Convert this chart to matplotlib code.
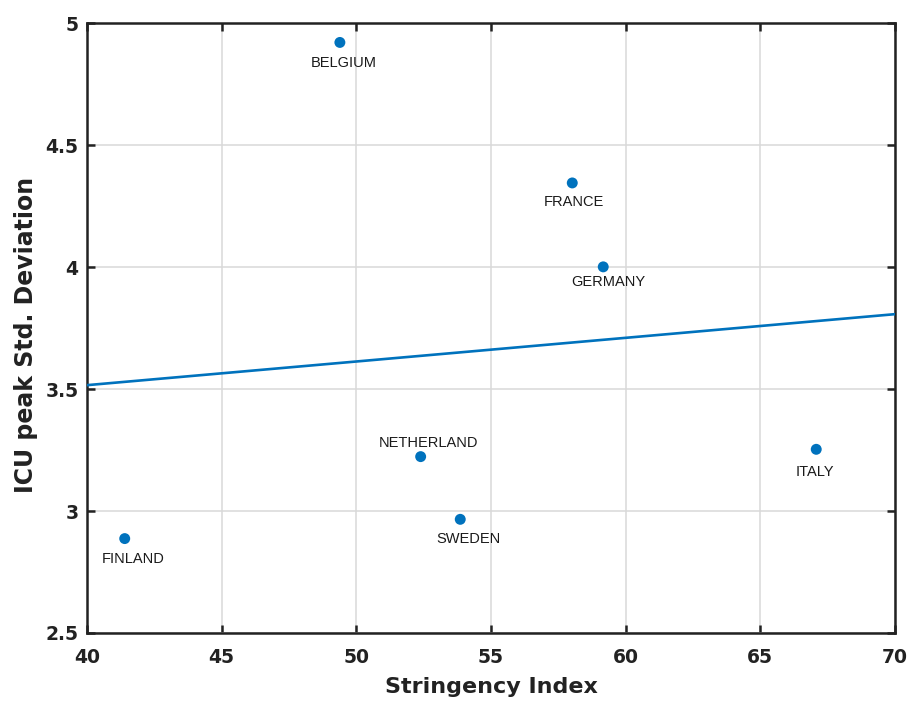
import matplotlib
matplotlib.use('Agg')
import matplotlib.pyplot as plt

# data
countries = ['FINLAND', 'BELGIUM', 'NETHERLAND', 'SWEDEN', 'FRANCE', 'GERMANY', 'ITALY']
stringency = [41.40, 49.39, 52.39, 53.86, 58.02, 59.17, 67.08]
icu_std = [2.887, 4.921, 3.223, 2.966, 4.345, 4.001, 3.253]

# linear fit line end points
fit_x = [40, 70]
fit_y = [3.516, 3.807]

# label offsets in points (dx, dy) from each marker
label_offsets = [(6, -15), (3, -15), (6, 10), (6, -14), (1.5, -14), (3.5, -11), (-1, -16)]

plt.rcParams['font.family'] = ['Liberation Sans', 'DejaVu Sans']

fig = plt.figure(figsize=(9.15, 7.02), dpi=100)
ax = fig.add_axes([0.0951, 0.0983, 0.978 - 0.0951, 0.967 - 0.0983])

blue = '#0072BD'
ax.plot(fit_x, fit_y, color=blue, lw=1.9, zorder=3)
ax.scatter(stringency, icu_std, s=62, color=blue, edgecolors='none', zorder=4)

for name, x, y, off in zip(countries, stringency, icu_std, label_offsets):
    ax.annotate(name, (x, y), xytext=off, textcoords='offset points',
                ha='center', va='center', fontsize=10.5, color='#1a1a1a')

ax.set_xlim(40, 70)
ax.set_ylim(2.5, 5)
ax.set_xticks(range(40, 71, 5))
ax.set_yticks([2.5, 3, 3.5, 4, 4.5, 5])
ax.set_yticklabels(['2.5', '3', '3.5', '4', '4.5', '5'])

ax.grid(True, color='#d9d9d9', lw=1.1)
ax.set_axisbelow(True)

for sp in ax.spines.values():
    sp.set_linewidth(1.8)
    sp.set_color('#222222')

ax.tick_params(direction='in', length=6, width=1.8, color='#222222',
               top=True, right=True, labelsize=13.5)
ax.tick_params(axis='x', pad=11)
ax.tick_params(axis='y', pad=6)
for lab in ax.get_xticklabels() + ax.get_yticklabels():
    lab.set_fontweight('bold')
    lab.set_family('DejaVu Sans')
    lab.set_color('#222222')

ax.set_xlabel('Stringency Index', fontsize=16, fontweight='bold', color='#222222',
              family='DejaVu Sans', labelpad=7)
ax.set_ylabel('ICU peak Std. Deviation', fontsize=17, fontweight='bold', color='#222222',
              family='DejaVu Sans')
ax.yaxis.set_label_coords(-0.0606, 0.489)

fig.savefig('out.png', dpi=100)
